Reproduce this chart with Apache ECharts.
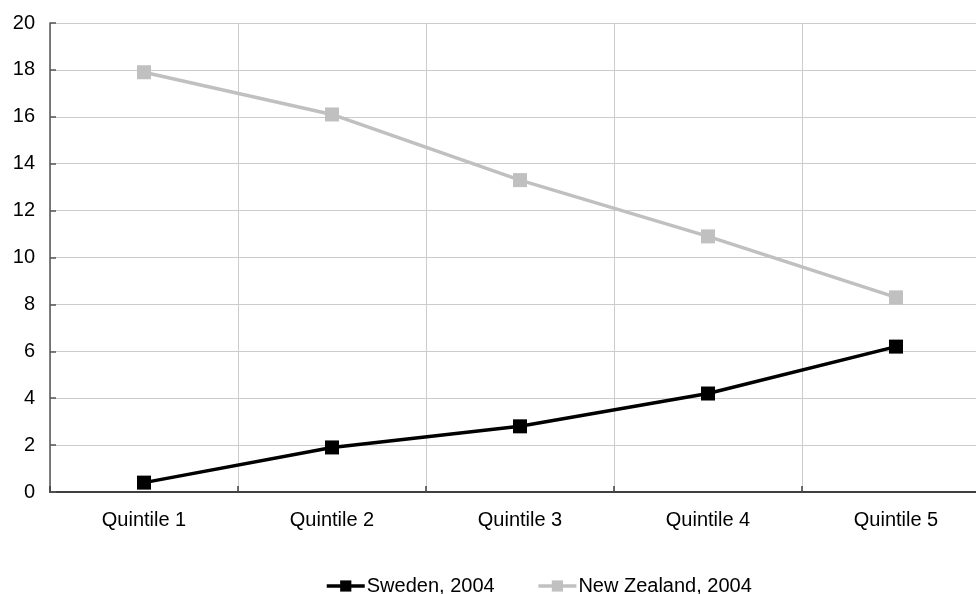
<!DOCTYPE html>
<html>
<head>
<meta charset="utf-8">
<script src="https://cdn.jsdelivr.net/npm/echarts@6/dist/echarts.min.js"></script>
<style>
html,body{margin:0;padding:0;background:#fff;overflow:hidden;width:976px;height:594px;}
#chart{width:990px;height:594px;}
</style>
</head>
<body>
<div id="chart"></div>
<script>
var categories = ["Quintile 1", "Quintile 2", "Quintile 3", "Quintile 4", "Quintile 5"];
var seriesNames = ["Sweden, 2004", "New Zealand, 2004"];
var swedenValues = [0.4, 1.9, 2.8, 4.2, 6.2];
var newZealandValues = [17.9, 16.1, 13.3, 10.9, 8.3];
var yMin = 0, yMax = 20, yInterval = 2;

var chart = echarts.init(document.getElementById('chart'), null, {renderer: 'canvas'});
var font = 'Liberation Sans, Arial, sans-serif';
chart.setOption({
  animation: false,
  backgroundColor: '#ffffff',
  grid: {left: 50, top: 23, right: 0, bottom: 102},
  xAxis: {
    type: 'category',
    data: categories,
    boundaryGap: true,
    axisLine: {lineStyle: {color: '#404040', width: 2}},
    axisTick: {show: true, inside: true, length: 6, lineStyle: {color: '#404040', width: 1.5}},
    axisLabel: {color: '#000', fontFamily: font, fontSize: 20, margin: 18},
    splitLine: {show: true, lineStyle: {color: '#cccccc', width: 1}}
  },
  yAxis: {
    type: 'value',
    min: yMin, max: yMax, interval: yInterval,
    axisLine: {show: true, lineStyle: {color: '#555555', width: 1.5}},
    axisTick: {show: true, inside: true, length: 6, lineStyle: {color: '#555555', width: 1.5}},
    axisLabel: {color: '#000', fontFamily: font, fontSize: 20, margin: 15},
    splitLine: {show: true, lineStyle: {color: '#cccccc', width: 1}}
  },
  legend: {
    left: 320,
    top: 571,
    itemWidth: 38,
    itemHeight: 14,
    itemGap: 42,
    lineStyle: {width: 3.5},
    textStyle: {color: '#000', fontFamily: font, fontSize: 20, padding: [0,0,0,-3]},
    data: seriesNames
  },
  series: [
    {
      name: seriesNames[0], type: 'line', data: swedenValues,
      symbol: 'rect', symbolSize: 14,
      itemStyle: {color: '#000000'},
      lineStyle: {color: '#000000', width: 3.5}
    },
    {
      name: seriesNames[1], type: 'line', data: newZealandValues,
      symbol: 'rect', symbolSize: 14,
      itemStyle: {color: '#c0c0c0'},
      lineStyle: {color: '#c0c0c0', width: 3.5}
    }
  ]
});
</script>
</body>
</html>
